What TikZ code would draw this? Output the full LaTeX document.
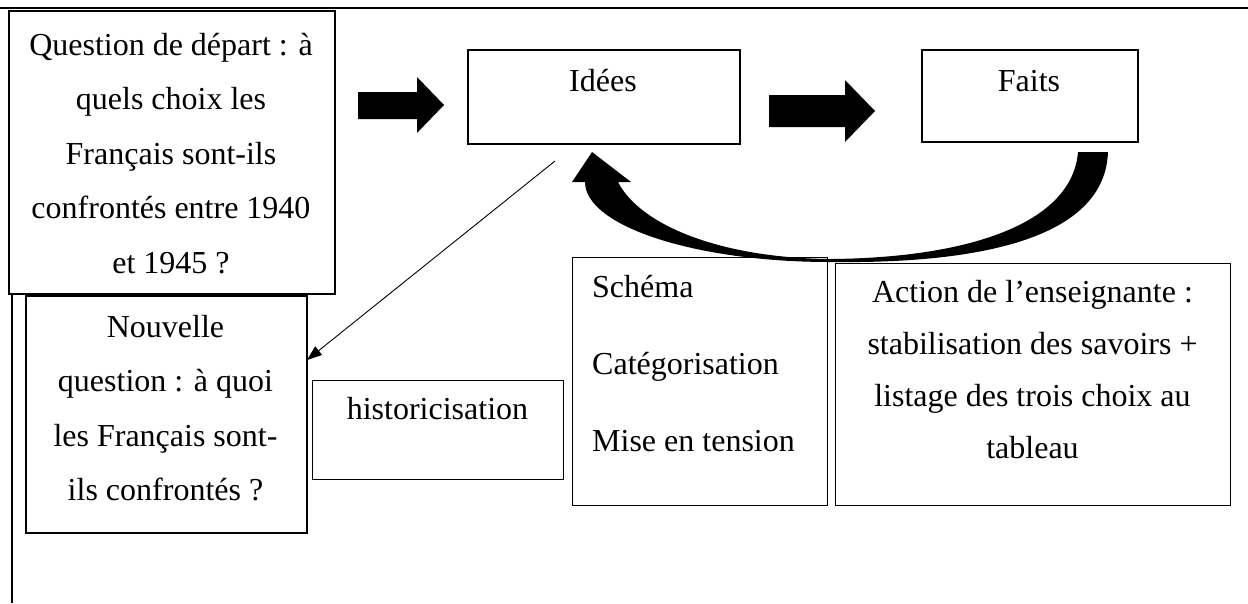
\documentclass[tikz,border=0pt]{standalone}
\usepackage{fontspec}
\setmainfont{Liberation Serif}
\usetikzlibrary{arrows.meta}
\begin{document}
\begin{tikzpicture}[x=1pt,y=-1pt,
  box/.style={draw, line width=2pt, fill=white, inner sep=0pt, anchor=north west},
  thinbox/.style={draw, line width=1.1pt, fill=white, inner sep=0pt, anchor=north west},
  tx/.style={inner sep=0pt, anchor=base, font=\fontsize{32}{54.5}\selectfont},
  txa/.style={inner sep=0pt, anchor=base, font=\fontsize{32}{52}\selectfont},
  txl/.style={inner sep=0pt, anchor=base west, font=\fontsize{32}{77}\selectfont},
  blockarrow/.style={fill=black, draw=none},
  thinarrow/.style={line width=0.9pt, -{Triangle[length=15pt,width=11pt]}}]
\useasboundingbox (0,0) rectangle (1248,603);
% frame
\draw[line width=2.5pt] (0,8) -- (1248,8);
\draw[line width=1.5pt] (12,290) -- (12,603);
% boxes
\node[box, minimum width=326pt, minimum height=283pt] (q) at (8,10) {};
\node[tx] (qt) at (171,55) {\parbox[t]{320pt}{\centering Question de départ : à\\quels choix les\\Français sont-ils\\confrontés entre 1940\\et 1945 ?}};
\node[box, minimum width=272pt, minimum height=94pt] (idees) at (467,49) {};
\node[tx] (ideest) at (603,91) {Idées};
\node[box, minimum width=216pt, minimum height=92pt] (faits) at (921,49) {};
\node[tx] (faitst) at (1029,91) {Faits};
\node[box, minimum width=281pt, minimum height=237pt] (nouv) at (25,295) {};
\node[tx] (nouvt) at (165.5,337) {\parbox[t]{275pt}{\centering Nouvelle\\question : à quoi\\les Français sont-\\ils confrontés ?}};
\node[thinbox, minimum width=251pt, minimum height=99pt] (hist) at (312,380) {};
\node[tx] (histt) at (437.5,419) {historicisation};
\node[thinbox, minimum width=255pt, minimum height=248pt] (schema) at (572,257) {};
\node[txl] (schemat) at (592,297) {\parbox[t]{230pt}{Schéma\\Catégorisation\\Mise en tension}};
\node[thinbox, minimum width=395pt, minimum height=242pt] (action) at (835,263) {};
\node[txa] (actiont) at (1032.5,302) {\parbox[t]{390pt}{\centering Action de l’enseignante :\\stabilisation des savoirs +\\listage des trois choix au\\tableau}};
% block arrows
\fill[blockarrow] (358,92) -- (417,92) -- (417,77) -- (444,105) -- (417,133) -- (417,119) -- (358,119) -- cycle;
\fill[blockarrow] (769,95) -- (845,95) -- (845,80) -- (875,111) -- (845,142) -- (845,127) -- (769,127) -- cycle;
% curved arrow
\fill[blockarrow] (1108,152) .. controls (1105,235) and (990,264) .. (830,262)
  .. controls (695,262) and (585,226) .. (585,182)
  -- (572,182) -- (592,152) -- (631,182) -- (618,182)
  .. controls (640,225) and (720,258) .. (830,259)
  .. controls (965,258) and (1072,225) .. (1078,152) -- cycle;
% thin arrow
\coordinate (c1) at (555,161);
\coordinate (c2) at (307,360);
\draw[thinarrow] (c1) -- (c2);
\end{tikzpicture}
\end{document}
